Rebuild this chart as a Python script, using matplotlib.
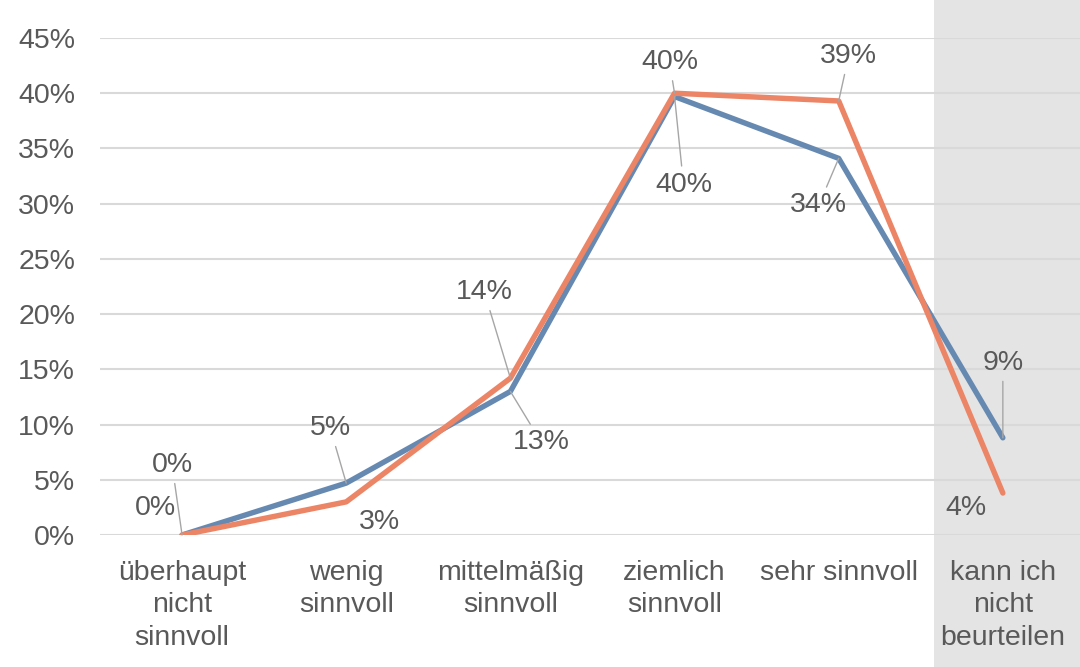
import matplotlib
matplotlib.use('Agg')
from matplotlib import pyplot as plt
from matplotlib.patches import Rectangle
from matplotlib.transforms import blended_transform_factory

# categories and values
categories = ['überhaupt\nnicht\nsinnvoll', 'wenig\nsinnvoll', 'mittelmäßig\nsinnvoll',
              'ziemlich\nsinnvoll', 'sehr sinnvoll', 'kann ich\nnicht\nbeurteilen']
blue_vals = [0.0, 0.047, 0.13, 0.397, 0.341, 0.088]
orange_vals = [0.0, 0.030, 0.142, 0.400, 0.393, 0.038]
yticks = [0, 0.05, 0.10, 0.15, 0.20, 0.25, 0.30, 0.35, 0.40, 0.45]

# label offsets (pixels) and whether a leader line is drawn
blue_offsets = [(-10, 70), (-16, 55), (31, -51), (9, -88), (-20, -47), (0, 75)]
blue_leader = [True, True, True, True, True, True]
orange_offsets = [(-27, 27), (33, -20), (-26, 86), (-5, 31), (10, 45), (-37, -15)]
orange_leader = [False, False, True, True, True, False]

blue = '#6689B2'
orange = '#EC8466'
text_col = '#595959'
fs = 20.5

plt.rcParams['font.family'] = ['Liberation Sans', 'DejaVu Sans']

fig = plt.figure(figsize=(10.8, 6.67), dpi=100)
ax = fig.add_axes([100 / 1080, 132 / 667, 980 / 1080, 497 / 667])

x = list(range(len(categories)))

# grey band behind the last category, full figure height
trans = blended_transform_factory(ax.transData, fig.transFigure)
ax.add_patch(Rectangle((4.58, 0), 2, 1, transform=trans, clip_on=False,
                       facecolor='#E4E4E4', edgecolor='none', zorder=0.1))

ax.plot(x, blue_vals, color=blue, lw=3.9, solid_capstyle='round', zorder=3)
ax.plot(x, orange_vals, color=orange, lw=3.9, solid_capstyle='round', zorder=4)

for vals, offs, leads in [(blue_vals, blue_offsets, blue_leader),
                          (orange_vals, orange_offsets, orange_leader)]:
    for i, v in enumerate(vals):
        props = None
        if leads[i]:
            props = dict(arrowstyle='-', color='#A6A6A6', lw=1.0, shrinkA=2, shrinkB=0)
        ax.annotate('{:.0%}'.format(v), (i, v), xytext=offs[i], textcoords='offset pixels',
                    ha='center', va='center', fontsize=fs, color=text_col,
                    arrowprops=props, zorder=5)

ax.set_xlim(-0.5, 5.47)
ax.set_ylim(0, 0.45)
ax.set_yticks(yticks)
ax.set_yticklabels(['{:.0%}'.format(t) for t in yticks])
ax.set_xticks(x)
ax.set_xticklabels(categories, linespacing=1.32)
ax.grid(axis='y', color='#D9D9D9', lw=1.5)
ax.set_axisbelow(True)
for s in ax.spines.values():
    s.set_visible(False)
ax.tick_params(axis='both', length=0, labelsize=fs, labelcolor=text_col)
ax.tick_params(axis='x', pad=18)
ax.tick_params(axis='y', pad=18)

fig.savefig('out.png', dpi=100)
